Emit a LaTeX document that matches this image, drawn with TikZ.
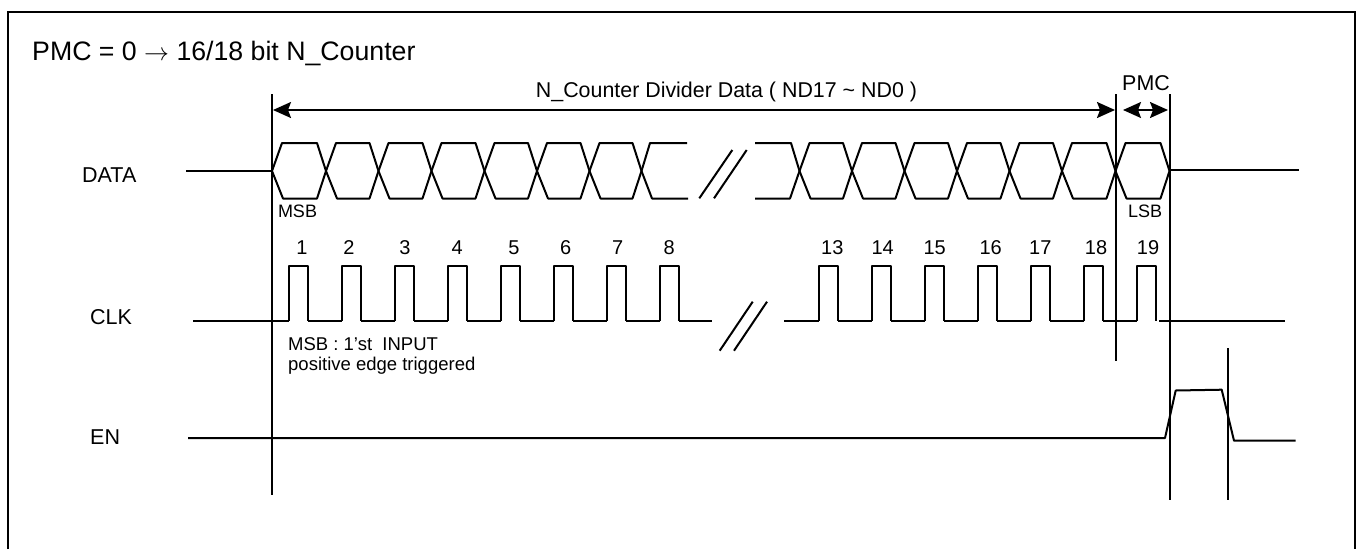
\documentclass[tikz,border=0pt]{standalone}
\usepackage{fontspec}
\setmainfont{Liberation Sans}
\usetikzlibrary{arrows.meta}
\tikzset{
    wave_line/.style={
        line width=2pt,
        black,
        line join=round
    },
    marker_line/.style={
        line width=1.9pt,
        black
    },
    span_arrow/.style={
        line width=1.9pt,
        black,
        {Stealth[length=18pt,width=16pt,inset=3pt]}-{Stealth[length=18pt,width=16pt,inset=3pt]},
        shorten <=1pt,
        shorten >=1pt
    },
    title_text/.style={font=\fontsize{26.7}{30}\selectfont, inner sep=0pt, anchor=base west},
    signal_text/.style={font=\fontsize{21.5}{25}\selectfont, inner sep=0pt, anchor=west},
    count_text/.style={font=\fontsize{20}{24}\selectfont, inner sep=0pt},
    label_text/.style={font=\fontsize{21.4}{25}\selectfont, inner sep=0pt},
    bit_text/.style={font=\fontsize{18}{21}\selectfont, inner sep=0pt},
    note_text/.style={font=\fontsize{18.5}{21}\selectfont, inner sep=0pt, anchor=base west}
}
\begin{document}
\begin{tikzpicture}[x=1pt, y=-1pt]
    \useasboundingbox (0,0) rectangle (1356,549);

    % frame
    \draw[line width=1.9pt] (8,549) -- (8,12) -- (1355,12) -- (1355,549);

    % titles and signal names
    \node[title_text] (title) at (32,60) {PMC = 0 $\rightarrow$ 16/18 bit N\_Counter};
    \node[signal_text] (dataLabel) at (82,175.5) {DATA};
    \node[signal_text] (clkLabel) at (90,317) {CLK};
    \node[signal_text] (enLabel) at (90,437) {EN};
    \node[label_text] (ndLabel) at (726.5,92) {N\_Counter Divider Data ( ND17 \textasciitilde{} ND0 )};
    \node[label_text] (pmcLabel) at (1146,83) {PMC};
    \node[bit_text] (msbLabel) at (297.5,211) {MSB};
    \node[bit_text] (lsbLabel) at (1145,211.5) {LSB};
    \node[note_text] (noteA) at (288,350) {MSB : 1'st\ \ INPUT};
    \node[note_text] (noteB) at (288,370) {positive edge triggered};

    % marker lines
    \coordinate (m1a) at (272,94);
    \coordinate (m1b) at (272,495);
    \coordinate (m2a) at (1116,94);
    \coordinate (m2b) at (1116,361);
    \coordinate (m3a) at (1170,94);
    \coordinate (m3b) at (1170,500);
    \coordinate (m4a) at (1228,348);
    \coordinate (m4b) at (1228,500);
    \draw[marker_line] (m1a) -- (m1b);
    \draw[marker_line] (m2a) -- (m2b);
    \draw[marker_line] (m3a) -- (m3b);
    \draw[marker_line] (m4a) -- (m4b);

    % span arrows
    \coordinate (s1) at (272,110);
    \coordinate (s2) at (1116,110);
    \coordinate (s3) at (1122,110);
    \coordinate (s4) at (1169,110);
    \draw[span_arrow] (s1) -- (s2);
    \draw[span_arrow] (s3) -- (s4);

    % DATA
    \draw[wave_line] (186,171) -- (272,171);
    \draw[wave_line] (1170,170) -- (1299,170);
    \foreach \xa/\xb in {272/326, 326/378.5, 378.5/431.5, 431.5/484.5, 484.5/537, 537/589.5, 589.5/641.5,
                         799.5/852, 852/904.5, 904.5/957, 957/1009.5, 1009.5/1062, 1062/1115.5, 1115.5/1169.5} {
        \draw[wave_line] (\xa,171) -- ({\xa+10},143) -- ({\xb-9},143) -- (\xb,171)
            -- ({\xb-9},198.5) -- ({\xa+11},198.5) -- cycle;
    }
    \draw[wave_line] (687,143) -- (650,143) -- (641.5,171) -- (652,198.5) -- (688,198.5);
    \draw[wave_line] (755,143) -- (791,143) -- (799.5,171) -- (790,198.5) -- (755,198.5);
    \draw[wave_line] (699.3,198.3) -- (732.3,150);
    \draw[wave_line] (714,198.3) -- (746.7,150);

    % CLK
    \foreach \x/\nx/\n in {289.3/302/1, 342/349/2, 395/405/3, 448/457.3/4, 501/514/5, 553.7/565.7/6, 607/617.7/7, 660/669.3/8,
                           819.3/832.3/13, 872.3/882.7/14, 925/934.7/15, 978/990.7/16, 1031/1040.3/17, 1084/1096/18, 1137/1148/19} {
        \draw[wave_line] (\x,321) -- (\x,266) -- ({\x+19},266) -- ({\x+19},321);
        \node[count_text] (num\n) at (\nx,247.3) {\n};
    }
    \foreach \xa/\xb in {193/289.3, 308.3/342, 361/395, 414/448, 467/501, 520/553.7, 572.7/607, 626/660, 679/711.7,
                         784/819.3, 838.3/872.3, 891.3/925, 944/978, 997/1031, 1050/1084, 1103/1137, 1159/1285} {
        \draw[wave_line] (\xa,321) -- (\xb,321);
    }
    \draw[wave_line] (719.7,350.7) -- (752.7,301.7);
    \draw[wave_line] (734,350.7) -- (767,301.7);

    % EN
    \draw[wave_line] (188,438) -- (1165,438) -- (1175.7,390.5) -- (1221.7,389.7)
        -- (1234,440.7) -- (1295.7,440.7);
\end{tikzpicture}
\end{document}
